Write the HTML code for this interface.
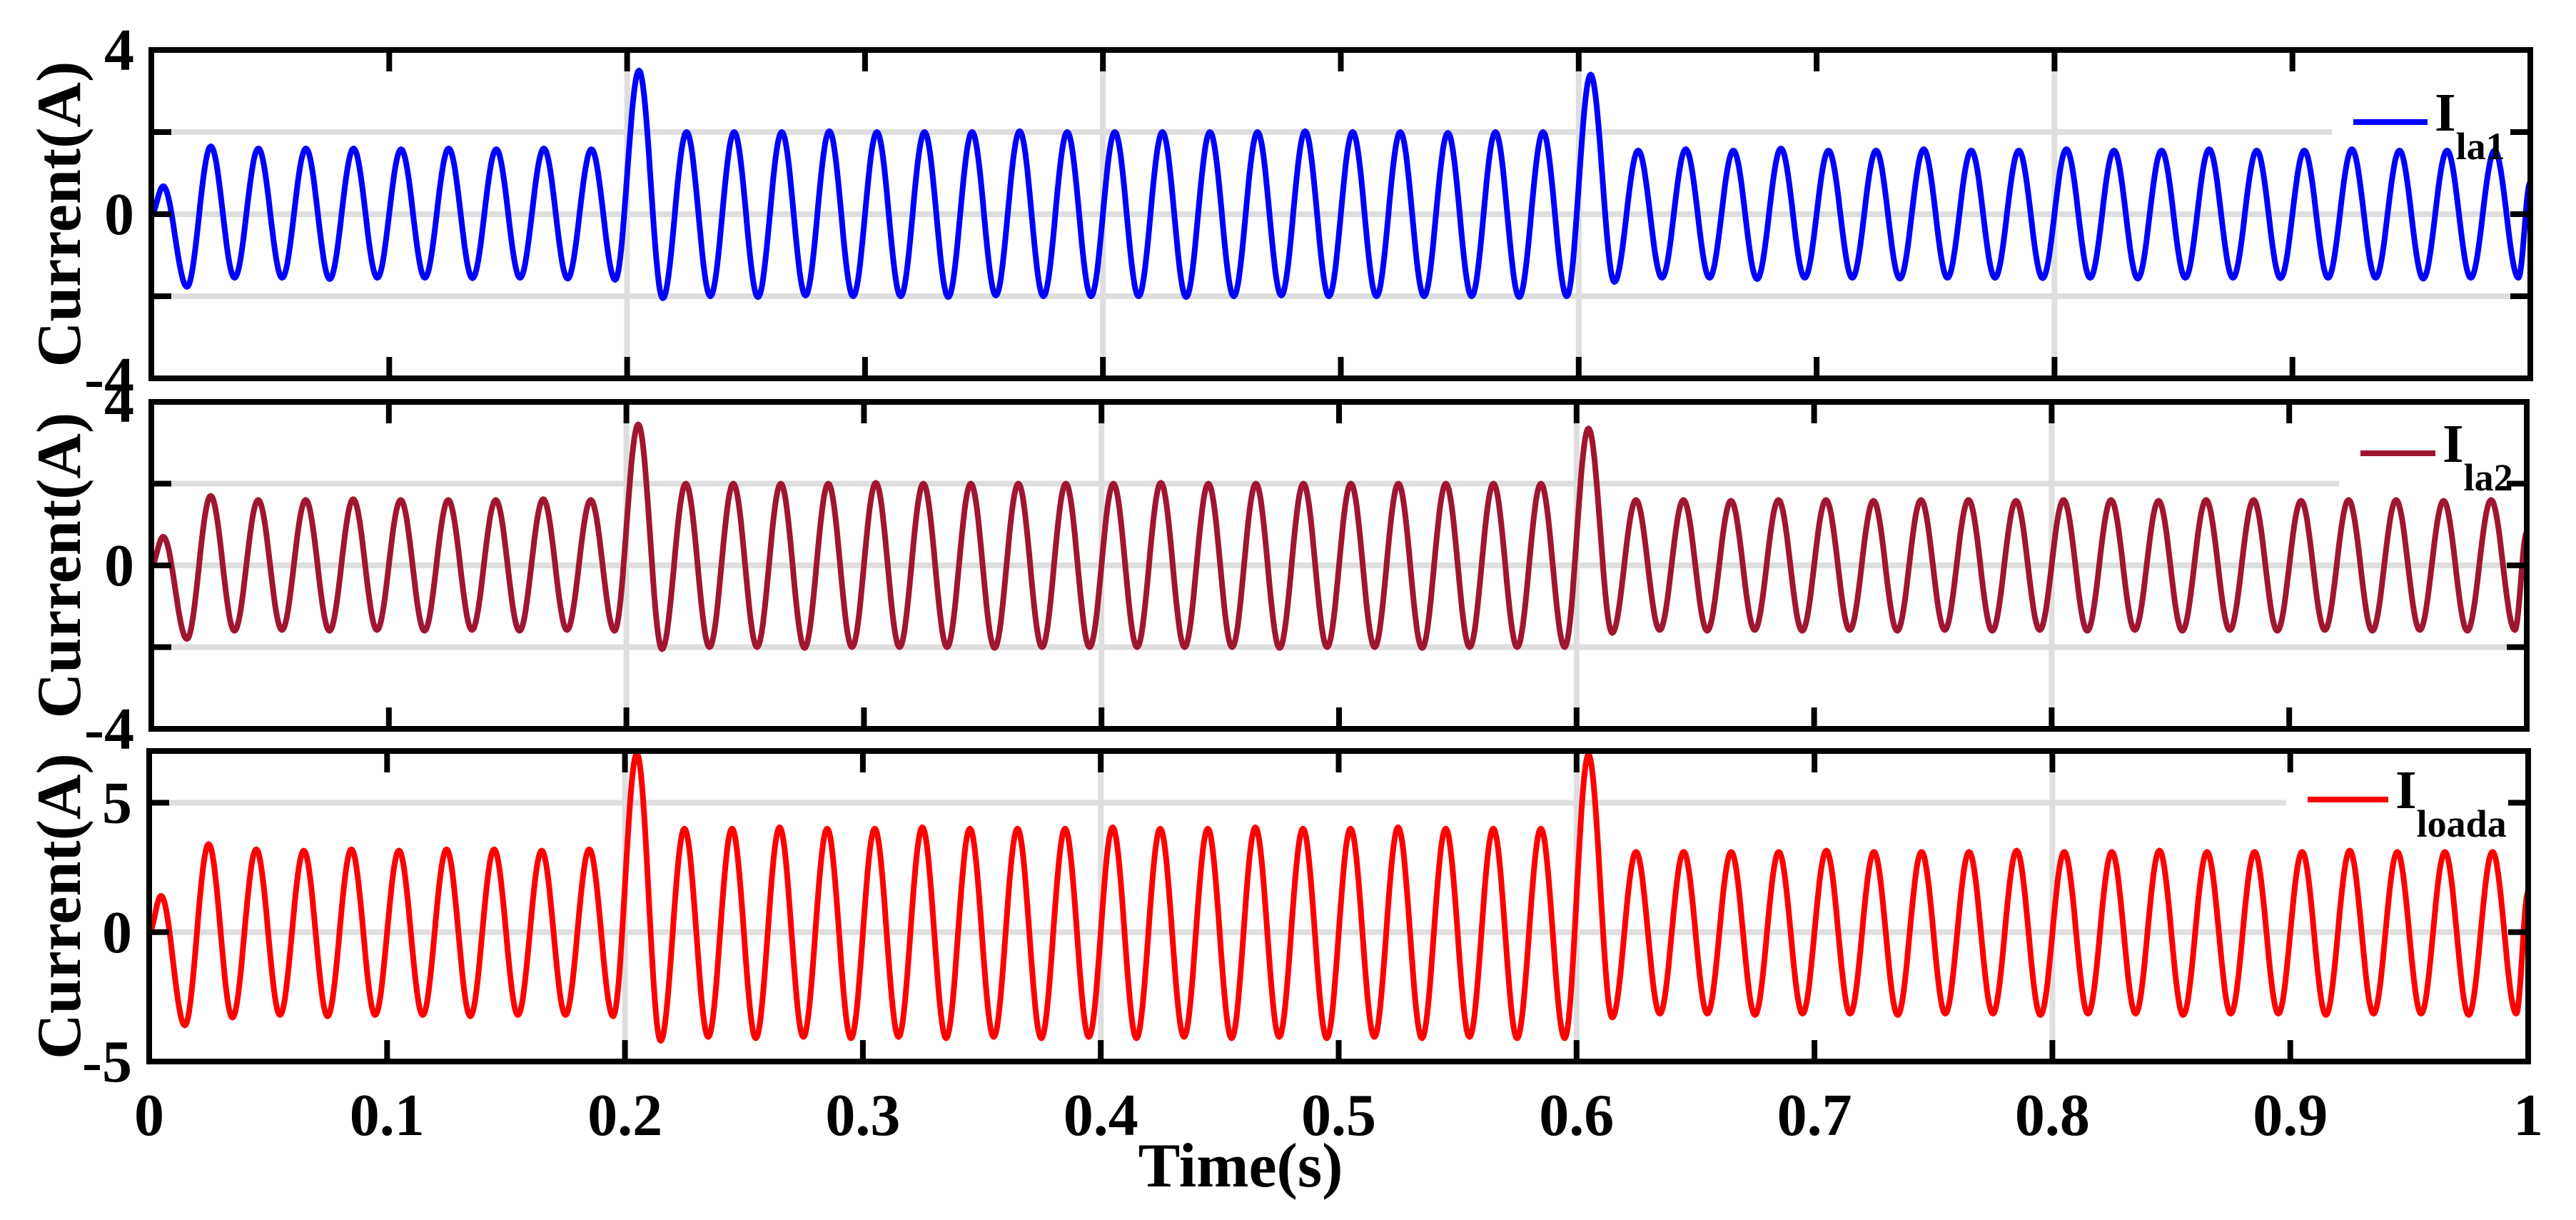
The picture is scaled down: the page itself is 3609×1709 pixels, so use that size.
<!DOCTYPE html>
<html><head><meta charset="utf-8"><style>
html,body{margin:0;padding:0;background:#fff;}
svg{display:block;}
text{font-family:"Liberation Serif",serif;font-weight:bold;fill:#000;}
</style></head><body>
<svg id="chart" xmlns="http://www.w3.org/2000/svg" width="3609" height="1709" viewBox="0 0 3609 1709">
<rect width="3609" height="1709" fill="#fff"/>
<text x="1738" y="1662" font-size="88" text-anchor="middle">Time(s)</text>
</svg>
<script>
// x tick labels
const xTicks = [0, 0.1, 0.2, 0.3, 0.4, 0.5, 0.6, 0.7, 0.8, 0.9, 1];
const xTickLabels = ["0", "0.1", "0.2", "0.3", "0.4", "0.5", "0.6", "0.7", "0.8", "0.9", "1"];
const xGrid = [0.2, 0.4, 0.6, 0.8];
// alternating extremes at t = 0.005, 0.015, 0.025 ... (peak, trough, peak, ...)
const extremaTimes = [];
for (let i = 0; i < 100; i++) extremaTimes.push(+(0.005 + 0.01 * i).toFixed(3));
// series 1: I_la1 extremes
const ila1 = [
 0.68,-1.77, 1.65,-1.55, 1.6,-1.55, 1.6,-1.58, 1.6,-1.55, 1.58,-1.55, 1.6,-1.56, 1.58,-1.55, 1.6,-1.57, 1.58,-1.6,
 3.5,-2.05, 2.0,-2.0, 2.0,-2.02, 2.0,-1.98, 2.02,-2.0, 2.0,-2.0, 2.0,-2.02, 2.0,-1.98, 2.02,-2.0, 2.0,-2.0,
 2.0,-2.0, 2.0,-2.02, 2.0,-2.0, 2.0,-1.98, 2.02,-2.0, 2.0,-2.0, 2.0,-2.0, 1.98,-2.0, 2.0,-2.02, 2.0,-2.0,
 3.4,-1.65, 1.55,-1.55, 1.58,-1.55, 1.55,-1.58, 1.6,-1.55, 1.55,-1.55, 1.55,-1.57, 1.58,-1.55, 1.55,-1.55, 1.55,-1.56,
 1.58,-1.55, 1.55,-1.57, 1.55,-1.55, 1.58,-1.55, 1.55,-1.56, 1.55,-1.55, 1.58,-1.55, 1.55,-1.57, 1.55,-1.55, 1.55,-1.55
];
// series 2: I_la2 extremes
const ila2 = [
 0.7,-1.8, 1.7,-1.6, 1.6,-1.58, 1.6,-1.6, 1.62,-1.58, 1.6,-1.6, 1.6,-1.58, 1.6,-1.6, 1.62,-1.58, 1.6,-1.6,
 3.45,-2.05, 2.0,-2.0, 2.0,-2.0, 2.0,-2.02, 2.0,-2.0, 2.02,-2.0, 2.0,-2.0, 2.0,-2.02, 2.0,-2.0, 2.0,-2.0,
 2.0,-2.0, 2.02,-2.0, 2.0,-2.0, 2.0,-2.02, 2.0,-2.0, 2.0,-2.0, 2.0,-2.02, 2.0,-2.0, 2.0,-2.0, 2.0,-2.0,
 3.35,-1.65, 1.6,-1.58, 1.6,-1.6, 1.58,-1.58, 1.6,-1.6, 1.6,-1.58, 1.58,-1.6, 1.6,-1.58, 1.6,-1.6, 1.58,-1.58,
 1.6,-1.6, 1.6,-1.58, 1.58,-1.6, 1.6,-1.58, 1.6,-1.6, 1.58,-1.58, 1.6,-1.6, 1.6,-1.58, 1.58,-1.6, 1.6,-1.58
];
// series 3: I_loada extremes
const iload = [
 1.4,-3.6, 3.4,-3.3, 3.2,-3.2, 3.15,-3.25, 3.2,-3.2, 3.15,-3.2, 3.2,-3.25, 3.2,-3.2, 3.15,-3.2, 3.2,-3.25,
 6.9,-4.2, 4.0,-4.05, 4.0,-4.1, 4.05,-4.05, 4.0,-4.1, 4.0,-4.05, 4.05,-4.1, 4.0,-4.05, 4.0,-4.1, 4.0,-4.05,
 4.05,-4.1, 4.0,-4.05, 4.0,-4.1, 4.05,-4.05, 4.0,-4.1, 4.0,-4.05, 4.05,-4.1, 4.0,-4.05, 4.0,-4.1, 4.0,-4.1,
 6.85,-3.3, 3.1,-3.15, 3.1,-3.15, 3.1,-3.2, 3.1,-3.15, 3.15,-3.15, 3.1,-3.2, 3.1,-3.15, 3.1,-3.15, 3.15,-3.2,
 3.1,-3.15, 3.1,-3.15, 3.15,-3.2, 3.1,-3.15, 3.1,-3.15, 3.1,-3.2, 3.15,-3.15, 3.1,-3.15, 3.1,-3.2, 3.1,-3.15
];
const panelYTicks1 = [4, 2, 0, -2, -4];
const panelYLabels1 = ["4", "", "0", "", "-4"];
const panelYTicks3 = [5, 0, -5];
const panelYLabels3 = ["5", "0", "-5"];

const NS = "http://www.w3.org/2000/svg";
const svg = document.getElementById("chart");
function mk(tag, attrs, parent) {
  const e = document.createElementNS(NS, tag);
  for (const k in attrs) e.setAttribute(k, attrs[k]);
  (parent || svg).appendChild(e);
  return e;
}
const panels = [
  {name:"ila1", data: ila1, color:"#0000ff", left:212, right:3545, top:70, bottom:530, ymin:-4, ymax:4, ticks:panelYTicks1, labels:panelYLabels1, hgrid:[2,0,-2], leg:{x1:3297,x2:3401,y:171,sub:"la1",bgTop:120,bgBot:193}},
  {name:"ila2", data: ila2, color:"#a01530", left:212, right:3540, top:563, bottom:1021, ymin:-4, ymax:4, ticks:panelYTicks1, labels:panelYLabels1, hgrid:[2,0,-2], leg:{x1:3307,x2:3412,y:635,sub:"la2",bgTop:590,bgBot:684}},
  {name:"iload", data: iload, color:"#ff0000", left:209, right:3542, top:1052, bottom:1487, ymin:-5, ymax:7, ticks:panelYTicks3, labels:panelYLabels3, hgrid:[5,0], leg:{x1:3233,x2:3346,y:1120,sub:"loada",bgTop:1070,bgBot:1134}}
];
panels.forEach(p => {
  const g = mk("g", {});
  
  
  const xs = t => p.left + (p.right - p.left) * t;
  const ys = v => p.bottom - (v - p.ymin) / (p.ymax - p.ymin) * (p.bottom - p.top);
  p.hgrid.forEach(v => {
    const l = mk("line", {x1:p.left, x2:p.right, y1:ys(v), y2:ys(v), stroke:"#dedede", "stroke-width":8}, g);
    
    
  });
  xGrid.forEach(t => {
    const l = mk("line", {x1:xs(t), x2:xs(t), y1:p.top, y2:p.bottom, stroke:"#dedede", "stroke-width":8}, g);
    
    
  });
  // legend background (hides gridline only)
  const lb = mk("rect", {x:p.leg.x1 - 30, y:p.leg.bgTop, width:p.right - p.leg.x1 + 20, height:p.leg.bgBot - p.leg.bgTop, fill:"#fff"}, g);
  
  
  // waveform
  const ext = extremaTimes.map((t, i) => [t, p.data[i]]);
  let prev = [0, 0];
  let d = "M" + xs(0).toFixed(1) + "," + ys(0).toFixed(1);
  const all = ext.concat([[1, p.data[98] * 0.5]]);
  all.forEach(e => {
    const n = 24;
    for (let k = 1; k <= n; k++) {
      const f = (1 - Math.cos(Math.PI * k / n)) / 2;
      const t = prev[0] + (e[0] - prev[0]) * k / n;
      const v = prev[1] + (e[1] - prev[1]) * f;
      d += "L" + xs(t).toFixed(1) + "," + ys(v).toFixed(1);
    }
    prev = e;
  });
  const path = mk("path", {d:d, fill:"none", stroke:p.color, "stroke-width":8, "stroke-linejoin":"round"}, g);
  
  
  // legend
  const ll = mk("line", {x1:p.leg.x1, x2:p.leg.x2, y1:p.leg.y, y2:p.leg.y, stroke:p.color, "stroke-width":8}, g);
  
  
  const lt = mk("text", {x:p.leg.x2 + 10, y:p.leg.y + 12, "font-size":76}, g);
  
  
  lt.textContent = "I";
  const sub = mk("tspan", {dy:40, "font-size":54}, lt);
  sub.textContent = p.leg.sub;
  // frame
  const fr = mk("rect", {x:p.left, y:p.top, width:p.right - p.left, height:p.bottom - p.top, fill:"none", stroke:"#000", "stroke-width":8}, g);
  
  
  xTicks.forEach(t => {
    if (t === 0 || t === 1) return;
    const a = mk("line", {x1:xs(t), x2:xs(t), y1:p.top, y2:p.top + 30, stroke:"#000", "stroke-width":8}, g);
    
    
    const b = mk("line", {x1:xs(t), x2:xs(t), y1:p.bottom, y2:p.bottom - 30, stroke:"#000", "stroke-width":8}, g);
    
    
  });
  p.ticks.forEach((v, i) => {
    if (v !== p.ymin && v !== p.ymax) {
      const a = mk("line", {x1:p.left, x2:p.left + 28, y1:ys(v), y2:ys(v), stroke:"#000", "stroke-width":8}, g);
      
      
      const b = mk("line", {x1:p.right, x2:p.right - 28, y1:ys(v), y2:ys(v), stroke:"#000", "stroke-width":8}, g);
      
      
    }
    if (p.labels[i]) {
      const tx = mk("text", {x:p.left - 24, y:ys(v) + 28, "font-size":84, "text-anchor":"end"}, g);
      
      
      tx.textContent = p.labels[i];
    }
  });
  const cy = (p.top + p.bottom) / 2;
  const yt = mk("text", {x:0, y:0, "font-size":88, "text-anchor":"middle", transform:"translate(112," + cy + ") rotate(-90)"}, g);
  
  
  yt.textContent = "Current(A)";
  if (p.name === "iload") {
    xTicks.forEach((t, i) => {
      const tx = mk("text", {x:xs(t), y:1590, "font-size":84, "text-anchor":"middle"}, g);
      
      
      tx.textContent = xTickLabels[i];
    });
  }
});
</script>
</body></html>
